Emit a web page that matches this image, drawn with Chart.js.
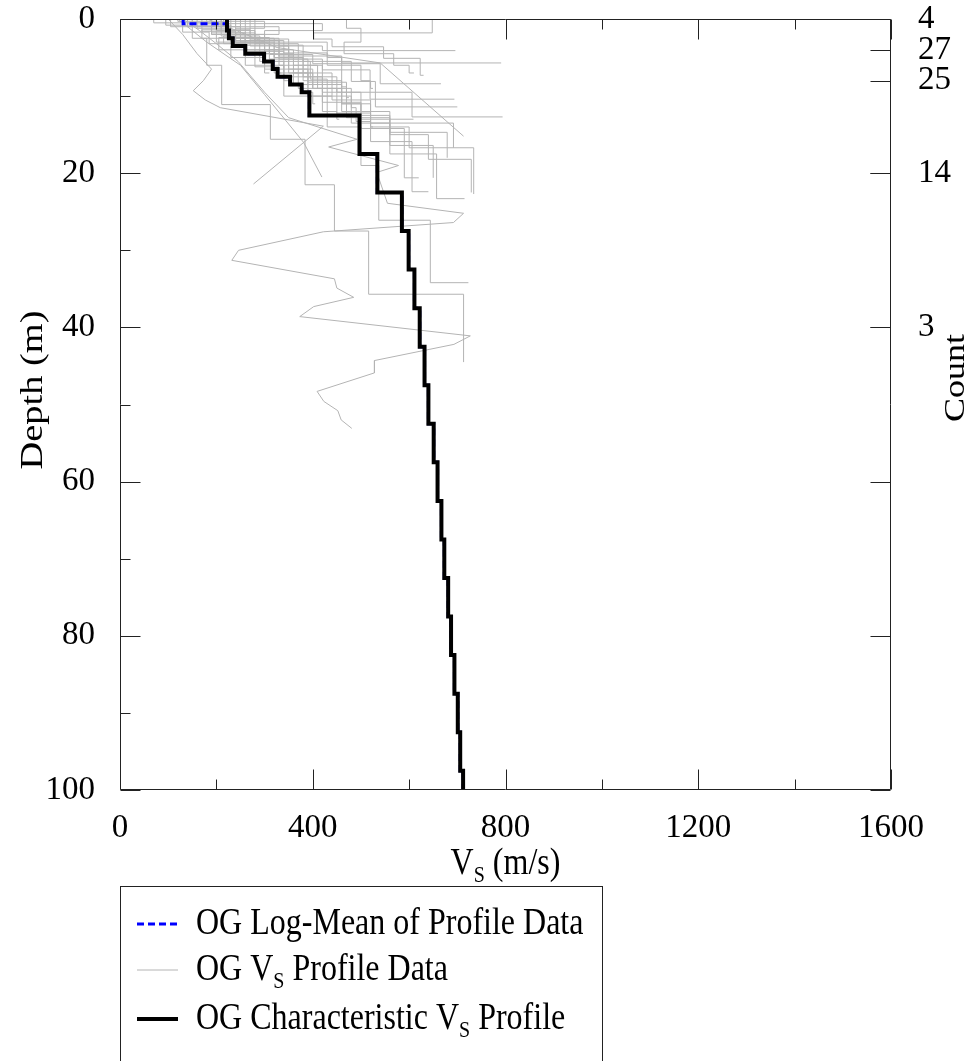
<!DOCTYPE html>
<html>
<head>
<meta charset="utf-8">
<title>OG Vs profiles</title>
<script src="https://cdn.jsdelivr.net/npm/chart.js@4.4.1/dist/chart.umd.min.js"></script>
<style>
    html, body { margin: 0; padding: 0; background: #fff; }
    canvas { display: block; }
</style>
</head>
<body>
<canvas id="vsChart" width="970" height="1061"></canvas>
<script>
"use strict";

// --- Data (Vs in m/s, depth in m) ---

// axis ticks
const xMajorTicks = [0, 400, 800, 1200, 1600];
const xMinorTicks = [200, 600, 1000, 1400];
const yMajorTicks = [0, 20, 40, 60, 80, 100];
const yMinorTicks = [10, 30, 50, 70, 90];

// profile counts shown on the right axis
const countDepths = [0, 4, 8, 20, 40];
const countLabels = ['4', '27', '25', '14', '3'];

// characteristic profile: [Vs, top of layer depth], last point = bottom
const charProfile = [
    [222, 0], [226, 1.5], [234, 2.5], [260, 3.5], [299, 4.5], [317, 5.5], [327, 6.5],
    [353, 7.5], [377, 8.5], [393, 9.5], [497, 12.5], [534, 17.5], [585, 22.5],
    [599, 27.5], [611, 32.5], [622, 37.5], [632, 42.5], [640, 47.5], [651, 52.5],
    [659, 57.5], [667, 62.5], [673, 67.5], [681, 72.5], [687, 77.5], [694, 82.5],
    [701, 87.5], [706, 92.5], [712, 97.5], [712, 100]
];

// log-mean of the profile data (mostly hidden under the characteristic one)
const logMeanProfile = [
    [131, 0], [222, 0.6], [226, 1.5], [234, 2.5], [260, 3.5], [299, 4.5], [317, 5.5],
    [327, 6.5], [353, 7.5], [377, 8.5], [393, 9.5], [497, 12.5], [534, 17.5],
    [585, 22.5], [599, 27.5], [611, 32.5], [622, 37.5], [632, 42.5], [640, 47.5],
    [651, 52.5], [659, 57.5], [667, 62.5], [673, 67.5], [681, 72.5], [687, 77.5],
    [694, 82.5], [701, 87.5], [706, 92.5], [712, 97.5], [712, 100]
];

// measured layered profiles (stepped)
const grayStepProfiles = [
    [[70, 0], [200, 0.5], [170, 1.4], [260, 2.5], [230, 3.5], [300, 5], [310, 7]],
    [[95, 0], [230, 0.8], [215, 2.2], [300, 3.2], [340, 5.5], [350, 8]],
    [[120, 0], [300, 0.3], [240, 1.2], [330, 2.8], [360, 4.8], [390, 7], [400, 9.5], [405, 11]],
    [[140, 0], [330, 1], [260, 2], [380, 3.4], [395, 5.5], [430, 7.8], [440, 10]],
    [[180, 0], [420, 0.6], [300, 1.5], [430, 3], [460, 5], [470, 8.8], [475, 10.2]],
    [[105, 0], [250, 1], [205, 2.4], [280, 4], [330, 6.2], [335, 7]],
    [[215, 0], [190, 0.7], [250, 2], [300, 3], [360, 4.5], [410, 6], [420, 9], [450, 12], [455, 13]],
    [[150, 0], [225, 0.5], [280, 1.8], [340, 2.8], [430, 4.4], [500, 6], [520, 8], [525, 9]],
    [[130, 0], [185, 1.7], [260, 3.2], [320, 4.5], [400, 7], [480, 9], [490, 11.5], [520, 13.3], [525, 14]],
    [[470, 0], [500, 1.2], [465, 3], [568, 4.5], [600, 6], [610, 7]],
    [[648, 0], [402, 1.8], [440, 2.6], [547, 3.6], [623, 5.1], [630, 7.3]],
    [[160, 0], [230, 1.2], [330, 2.5], [420, 3.5], [696, 4.1]],
    [[200, 0], [270, 1.4], [350, 2.6], [460, 4.8], [791, 5.7]],
    [[170, 0], [240, 1.6], [310, 3], [400, 4.6], [540, 5.8], [666, 8.4]],
    [[190, 0], [260, 2], [330, 4], [420, 5.2], [519, 6.6], [694, 10.4]],
    [[210, 0], [280, 1.5], [370, 3.2], [480, 5.5], [530, 8.1], [700, 11.4]],
    [[200, 0], [250, 1.5], [320, 3], [380, 5], [450, 7.5], [606, 9.5], [794, 12.7]],
    [[240, 0], [300, 2], [350, 4], [400, 6.5], [460, 9], [500, 11], [609, 13]],
    [[250, 0], [320, 2.5], [380, 5], [460, 8], [520, 11], [692, 13.5], [692, 16.7]],
    [[260, 0], [330, 2.8], [420, 6], [500, 9.5], [560, 12.5], [679, 14.7], [679, 18]],
    [[270, 0], [350, 3.5], [440, 7], [520, 10.5], [600, 14], [734, 16.7], [734, 22.7]],
    [[280, 0], [360, 4], [460, 8.5], [560, 12], [640, 15], [729, 18.2], [729, 22.5]],
    [[230, 0], [300, 3], [390, 6.5], [480, 10], [560, 13.5], [657, 17.5], [657, 23.3], [715, 23.3]],
    [[210, 0], [290, 2.2], [370, 5.5], [450, 9], [520, 12.2], [606, 15.9], [606, 22.4], [640, 22.4]],
    [[190, 0], [260, 1.8], [340, 4.2], [420, 7.5], [500, 10.8], [590, 14.2], [590, 20.6], [620, 20.6]],
    [[250, 0], [310, 2.4], [390, 5.2], [470, 8.2], [560, 12.8], [650, 16.4], [650, 20.6]],
    [[150, 0], [180, 2.5], [211, 6], [312, 11.1], [384, 15.6], [445, 21.5], [516, 27.5], [713, 35.7], [713, 44.5]],
    [[200, 0], [260, 3], [340, 6], [430, 10], [500, 14], [537, 19], [644, 26.1], [723, 34.2]]
];

// measured profiles given point by point (straight segments)
const grayLineProfiles = [
    [[120, 0], [180, 3], [250, 6], [300, 9.8], [381, 16], [419, 20.5]],
    [[100, 0], [130, 2], [160, 4.5], [190, 6.5], [173, 8], [152, 9.3], [177, 10.5], [208, 11.5], [422, 13.9], [277, 21.4]],
    [[180, 0], [230, 1.2], [280, 2.5], [326, 3.7], [540, 5.7], [713, 15.2]],
    [[130, 0], [165, 1.5], [200, 3.2], [245, 5.5], [300, 9.5], [350, 12.8], [492, 15.6], [433, 16.6],
     [578, 19], [533, 19.9], [555, 23.9], [713, 25.2], [692, 26.4], [422, 27.6], [246, 30],
     [232, 31.3], [445, 33.7], [450, 34.9], [485, 36.1], [402, 37.3], [373, 38.6], [727, 41.1],
     [693, 42.2], [528, 44.3], [528, 45.9], [409, 48.3], [423, 49.6], [452, 50.8], [459, 52], [481, 53.1]]
];

// --- Styling ---
const FONT = '"Liberation Serif", "Times New Roman", serif';
const TEXT_STRETCH = 1.2;   // the original figure is a bit taller than wide
const AXIS_COLOR = '#222';
const GRAY = '#b4b4b4';
const BLUE = '#0000ff';

const toPoints = arr => arr.map(([v, d]) => ({ x: v, y: d }));

/** Draws text runs (with optional subscripts), stretched vertically like the source figure. */
function drawRuns(ctx, runs, x, y, size, align, rotate) {
    ctx.save();
    ctx.translate(x, y);
    if (rotate) {
        ctx.rotate(-Math.PI / 2);
        ctx.scale(TEXT_STRETCH, 1);
    } else {
        ctx.scale(1, TEXT_STRETCH);
    }
    ctx.fillStyle = '#000';
    ctx.textBaseline = 'alphabetic';
    ctx.textAlign = 'left';
    const fontFor = sub => `${sub ? Math.round(size * 0.64) : size}px ${FONT}`;
    let total = 0;
    runs.forEach(([t, sub]) => { ctx.font = fontFor(sub); total += ctx.measureText(t).width; });
    let cx = align === 'center' ? -total / 2 : 0;
    runs.forEach(([t, sub]) => {
        ctx.font = fontFor(sub);
        ctx.fillText(t, cx, sub ? size * 0.2 : 0);
        cx += ctx.measureText(t).width;
    });
    ctx.restore();
}

// --- Frame, inward ticks, axis titles and legend ---
const decorPlugin = {
    id: 'decor',
    afterDatasetsDraw(chart) {
        const { ctx, chartArea: a, scales: { x, y } } = chart;
        const L = Math.round(a.left) + 0.5, R = Math.round(a.right) - 0.5;
        const T = Math.round(a.top) + 0.5, B = Math.round(a.bottom) - 0.5;
        ctx.save();
        ctx.strokeStyle = AXIS_COLOR;
        ctx.lineWidth = 1;
        ctx.beginPath();
        ctx.rect(L, T, R - L, B - T);

        const vTick = (v, len) => {
            const px = Math.round(x.getPixelForValue(v)) + 0.5;
            ctx.moveTo(px, B); ctx.lineTo(px, B - len);
            ctx.moveTo(px, T); ctx.lineTo(px, T + len);
        };
        const hTick = (v, len, left, right) => {
            const py = Math.round(y.getPixelForValue(v)) + 0.5;
            if (left) { ctx.moveTo(L, py); ctx.lineTo(L + len, py); }
            if (right) { ctx.moveTo(R, py); ctx.lineTo(R - len, py); }
        };
        xMajorTicks.forEach(v => vTick(v, 20));
        xMinorTicks.forEach(v => vTick(v, 10));
        yMajorTicks.forEach(v => hTick(v, 20, true, true));
        yMinorTicks.forEach(v => hTick(v, 10, true, false));
        countDepths.forEach(v => hTick(v, 20, false, true));
        ctx.stroke();
        ctx.restore();
    },
    afterDraw(chart) {
        const { ctx, chartArea: a } = chart;
        const midX = (a.left + a.right) / 2;

        // axis titles
        drawRuns(ctx, [['V'], ['S', true], [' (m/s)']], midX, 874, 32, 'center');
        drawRuns(ctx, [['Depth (m)']], 42, 390, 32, 'center', true);
        drawRuns(ctx, [['Count']], 964, 378, 30, 'center', true);

        // legend box
        ctx.save();
        ctx.strokeStyle = AXIS_COLOR;
        ctx.lineWidth = 1;
        ctx.strokeRect(120.5, 886.5, 482, 200);

        const rows = [
            { y: 924, color: BLUE, width: 3, dash: [7, 4], runs: [['OG Log-Mean of Profile Data']] },
            { y: 970, color: GRAY, width: 1, dash: [], runs: [['OG V'], ['S', true], [' Profile Data']] },
            { y: 1019, color: '#000', width: 4, dash: [], runs: [['OG Characteristic V'], ['S', true], [' Profile']] }
        ];
        rows.forEach(r => {
            ctx.beginPath();
            ctx.strokeStyle = r.color;
            ctx.lineWidth = r.width;
            ctx.setLineDash(r.dash);
            ctx.moveTo(137, r.y);
            ctx.lineTo(178, r.y);
            ctx.stroke();
            ctx.setLineDash([]);
            drawRuns(ctx, r.runs, 196, r.y + 10, 32, 'left');
        });
        ctx.restore();
    }
};

// --- Datasets ---
const datasets = [
    {
        label: 'OG Characteristic Vs Profile',
        data: toPoints(charProfile),
        borderColor: '#000',
        borderWidth: 4,
        stepped: 'after',
        order: 0
    },
    {
        label: 'OG Log-Mean of Profile Data',
        data: toPoints(logMeanProfile),
        borderColor: BLUE,
        borderWidth: 3,
        borderDash: [7, 4],
        stepped: 'after',
        order: 1
    },
    ...grayStepProfiles.map((p, i) => ({
        label: `OG Vs Profile ${i + 1}`,
        data: toPoints(p),
        borderColor: GRAY,
        borderWidth: 1,
        stepped: 'after',
        order: 2
    })),
    ...grayLineProfiles.map((p, i) => ({
        label: `OG Vs Profile ${grayStepProfiles.length + i + 1}`,
        data: toPoints(p),
        borderColor: GRAY,
        borderWidth: 1,
        tension: 0,
        order: 2
    }))
];

const tickFont = { family: FONT, size: 33, lineHeight: 1 };

// keep the edge labels from pushing the plot area inward
const noEdgePadding = s => { s.paddingTop = 0; s.paddingBottom = 0; };

new Chart(document.getElementById('vsChart').getContext('2d'), {
    type: 'line',
    data: { datasets },
    options: {
        responsive: false,
        animation: false,
        devicePixelRatio: 1,
        layout: { padding: { top: 19, left: 0, right: 0, bottom: 0 } },
        elements: { point: { radius: 0, hoverRadius: 0 } },
        plugins: {
            legend: { display: false },
            tooltip: { enabled: false }
        },
        scales: {
            x: {
                type: 'linear',
                min: 0,
                max: 1600,
                grid: { display: false },
                border: { display: false },
                ticks: {
                    color: '#000', font: tickFont, padding: 14, maxRotation: 0, autoSkip: false,
                    callback: value => String(value)
                },
                afterBuildTicks: s => { s.ticks = xMajorTicks.map(v => ({ value: v })); },
                afterFit: s => { s.height = 271; s.paddingLeft = 0; s.paddingRight = 0; }
            },
            y: {
                type: 'linear',
                position: 'left',
                reverse: true,
                min: 0,
                max: 100,
                grid: { display: false },
                border: { display: false },
                ticks: { color: '#000', font: tickFont, padding: 17, autoSkip: false },
                afterBuildTicks: s => { s.ticks = yMajorTicks.map(v => ({ value: v })); },
                afterFit: s => { s.width = 120; noEdgePadding(s); }
            },
            y2: {
                type: 'linear',
                position: 'right',
                reverse: true,
                min: 0,
                max: 100,
                grid: { display: false },
                border: { display: false },
                ticks: {
                    color: '#000',
                    font: tickFont,
                    padding: 19,
                    autoSkip: false,
                    callback: (value, index) => countLabels[index]
                },
                afterBuildTicks: s => { s.ticks = countDepths.map(v => ({ value: v })); },
                afterFit: s => { s.width = 79; noEdgePadding(s); }
            }
        }
    },
    plugins: [decorPlugin]
});
</script>
</body>
</html>
